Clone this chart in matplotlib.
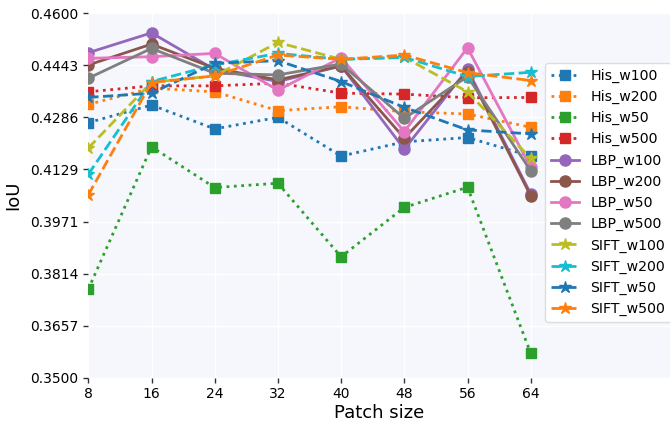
import numpy as np
import matplotlib
matplotlib.use("Agg")
from matplotlib import pyplot as plt

# patch sizes on the x axis
patch_sizes = [8, 16, 24, 32, 40, 48, 56, 64]

# IoU, one list per method/window
his_w100 = [0.4270, 0.4323, 0.4251, 0.4286, 0.4169, 0.4212, 0.4225, 0.4169]
his_w200 = [0.4325, 0.4374, 0.4363, 0.4306, 0.4318, 0.4303, 0.4296, 0.4256]
his_w50 = [0.3767, 0.4197, 0.4074, 0.4087, 0.3865, 0.4014, 0.4075, 0.3574]
his_w500 = [0.4363, 0.4381, 0.4381, 0.4389, 0.4359, 0.4356, 0.4345, 0.4346]
lbp_w100 = [0.4481, 0.4541, 0.4430, 0.4394, 0.4441, 0.4190, 0.4431, 0.4055]
lbp_w200 = [0.4444, 0.4507, 0.4434, 0.4399, 0.4441, 0.4223, 0.4424, 0.4049]
lbp_w50 = [0.4464, 0.4469, 0.4479, 0.4368, 0.4466, 0.4243, 0.4496, 0.4135]
lbp_w500 = [0.4404, 0.4494, 0.4419, 0.4414, 0.4447, 0.4283, 0.4409, 0.4125]
sift_w100 = [0.4193, 0.4392, 0.4411, 0.4512, 0.4461, 0.4467, 0.4363, 0.4162]
sift_w200 = [0.4114, 0.4394, 0.4444, 0.4479, 0.4461, 0.4467, 0.4409, 0.4422]
sift_w50 = [0.4346, 0.4359, 0.4449, 0.4457, 0.4394, 0.4316, 0.4248, 0.4236]
sift_w500 = [0.4052, 0.4391, 0.4411, 0.4474, 0.4461, 0.4474, 0.4421, 0.4397]

labels = ['His_w100', 'His_w200', 'His_w50', 'His_w500',
          'LBP_w100', 'LBP_w200', 'LBP_w50', 'LBP_w500',
          'SIFT_w100', 'SIFT_w200', 'SIFT_w50', 'SIFT_w500']
series = [his_w100, his_w200, his_w50, his_w500,
          lbp_w100, lbp_w200, lbp_w50, lbp_w500,
          sift_w100, sift_w200, sift_w50, sift_w500]

fig = plt.figure(figsize=(6.7, 4.21), dpi=100)
W, H = 670.0, 421.0
x0, x1 = 88.3, 670.0
ytop, ybot = 13.3, 377.7
ax = fig.add_axes([x0 / W, 1 - ybot / H, (x1 - x0) / W, (ybot - ytop) / H])
ax.set_facecolor('#f5f7fd')

colors = plt.rcParams['axes.prop_cycle'].by_key()['color']
for i, (lab, vals) in enumerate(zip(labels, series)):
    if lab.startswith('His'):
        ls, mk, ms = ':', 's', 7.5
    elif lab.startswith('LBP'):
        ls, mk, ms = '-', 'o', 8
    else:
        ls, mk, ms = '--', '*', 9
    ax.plot(patch_sizes, vals, linestyle=ls, marker=mk, markersize=ms,
            linewidth=2, color=colors[i % 10], label=lab)

# x scale: 7.9 px per unit, axes runs off to the right edge
ax.set_xlim(8, 8 + (x1 - x0) / 7.9)
ax.set_xticks(patch_sizes)
yt = np.linspace(0.35, 0.46, 8)
ax.set_ylim(0.35, 0.46)
ax.set_yticks(yt)
ax.set_yticklabels(['%.4f' % v for v in yt])
ax.tick_params(labelsize=10, length=3.5, width=1, color='#333333')
ax.grid(True, color='white', linewidth=1)
ax.set_axisbelow(True)
for s in ax.spines.values():
    s.set_visible(False)

ax.set_xlabel('Patch size', fontsize=13, labelpad=2)
ax.set_ylabel('IoU', fontsize=13, labelpad=6)

leg = ax.legend(loc='upper left', bbox_to_anchor=(545 / W, 1 - 63 / H),
                bbox_transform=fig.transFigure, borderaxespad=0,
                fontsize=10.2, frameon=True, fancybox=True, framealpha=1,
                edgecolor='#dddddd', handlelength=2.0)

fig.savefig('out.png', dpi=100)
